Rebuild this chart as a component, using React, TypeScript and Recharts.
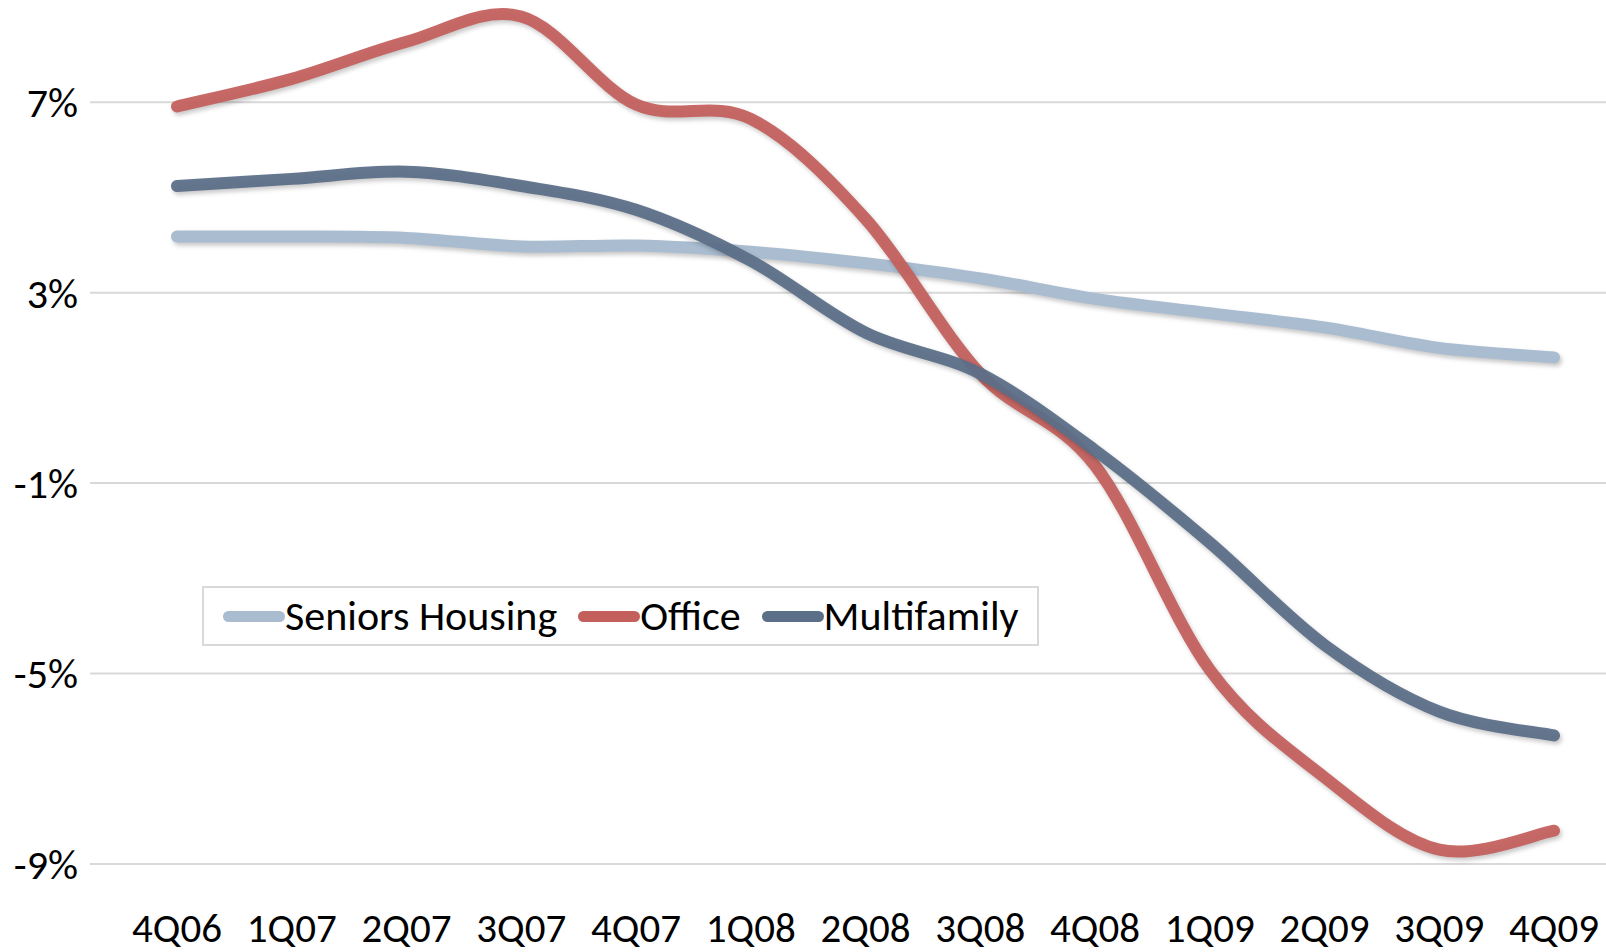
import React from 'react';
import { LineChart, Line, XAxis, YAxis, CartesianGrid, Legend } from 'recharts';

const quarters = ['4Q06', '1Q07', '2Q07', '3Q07', '4Q07', '1Q08', '2Q08', '3Q08', '4Q08', '1Q09', '2Q09', '3Q09', '4Q09'];
const seniorsHousing = [4.18, 4.18, 4.15, 3.97, 3.99, 3.86, 3.62, 3.3, 2.87, 2.57, 2.27, 1.84, 1.64];
const office = [6.91, 7.49, 8.27, 8.8, 6.95, 6.65, 4.55, 1.3, -0.63, -4.92, -7.18, -8.7, -8.3];
const multifamily = [5.24, 5.39, 5.54, 5.24, 4.74, 3.67, 2.16, 1.3, -0.31, -2.25, -4.4, -5.8, -6.3];
const yTicks = [-9, -5, -1, 3, 7];

const series = [
  { key: 'seniors', name: 'Seniors Housing', color: '#a9bcd0' },
  { key: 'office', name: 'Office', color: '#c4605c' },
  { key: 'multifamily', name: 'Multifamily', color: '#5b6f88' },
];

const data = quarters.map((q, i) => ({
  quarter: q,
  seniors: seniorsHousing[i],
  office: office[i],
  multifamily: multifamily[i],
}));

const FONT = "Carlito, 'Liberation Sans Narrow', 'Liberation Sans', sans-serif";

// Excel style smoothed line (catmull-rom through every point)
const smoothCurve = (context: any) => {
  let pts: number[][] = [];
  return {
    areaStart() {},
    areaEnd() {},
    lineStart() {
      pts = [];
    },
    point(x: number, y: number) {
      pts.push([+x, +y]);
    },
    lineEnd() {
      const n = pts.length;
      if (!n) return;
      context.moveTo(pts[0][0], pts[0][1]);
      for (let i = 0; i < n - 1; i++) {
        const p0 = pts[i - 1] || pts[i];
        const p1 = pts[i];
        const p2 = pts[i + 1];
        const p3 = pts[i + 2] || p2;
        context.bezierCurveTo(
          p1[0] + (p2[0] - p0[0]) / 6,
          p1[1] + (p2[1] - p0[1]) / 6,
          p2[0] - (p3[0] - p1[0]) / 6,
          p2[1] - (p3[1] - p1[1]) / 6,
          p2[0],
          p2[1]
        );
      }
    },
  };
};

const renderLegend = () => (
  <div
    style={{
      boxSizing: 'border-box',
      width: 837,
      height: 60,
      border: '2px solid #d9d9d9',
      display: 'flex',
      alignItems: 'center',
      paddingLeft: 19,
      fontFamily: FONT,
      fontSize: 42,
      color: '#000',
      background: '#fff',
      whiteSpace: 'nowrap',
    }}
  >
    {series.map((s) => (
      <div key={s.key} style={{ display: 'flex', alignItems: 'center', marginRight: 21, flexShrink: 0 }}>
        <span
          style={{
            display: 'inline-block',
            width: 62,
            height: 11,
            borderRadius: 6,
            background: s.color,
          }}
        />
        <span style={{ lineHeight: '48px' }}>{s.name}</span>
      </div>
    ))}
  </div>
);

export default function App() {
  return (
    <div style={{ position: 'absolute', left: 0, top: 0, background: '#fff' }}>
      <style>{`.soft-line path { filter: drop-shadow(2px 3px 2px rgba(0,0,0,0.22)); }`}</style>
      <LineChart width={1606} height={952} data={data} margin={{ top: 7, right: 0, bottom: 0, left: 0 }}>
        <CartesianGrid vertical={false} horizontalValues={yTicks} stroke="#d9d9d9" strokeWidth={2} />
        <XAxis
          dataKey="quarter"
          axisLine={false}
          tickLine={false}
          tickSize={0}
          tickMargin={49}
          height={88}
          interval={0}
          padding={{ left: 87, right: 52 }}
          tick={{ fill: '#000', fontSize: 41, fontFamily: FONT }}
        />
        <YAxis
          domain={[-9, 9]}
          ticks={yTicks}
          width={90}
          axisLine={false}
          tickLine={false}
          tickSize={0}
          tickMargin={12}
          tickFormatter={(v) => `${v}%`}
          tick={{ fill: '#000', fontSize: 42, fontFamily: FONT }}
        />
        <Legend
          verticalAlign="middle"
          layout="horizontal"
          content={renderLegend}
          wrapperStyle={{ left: 202, top: 586, width: 837, height: 60 }}
        />
        {series.map((s) => (
          <Line
            key={s.key}
            className="soft-line"
            dataKey={s.key}
            name={s.name}
            type={smoothCurve as any}
            stroke={s.color}
            strokeWidth={12}
            strokeLinecap="round"
            strokeOpacity={s.key === 'seniors' ? 1 : 0.94}
            dot={false}
            activeDot={false}
            isAnimationActive={false}
          />
        ))}
      </LineChart>
    </div>
  );
}
